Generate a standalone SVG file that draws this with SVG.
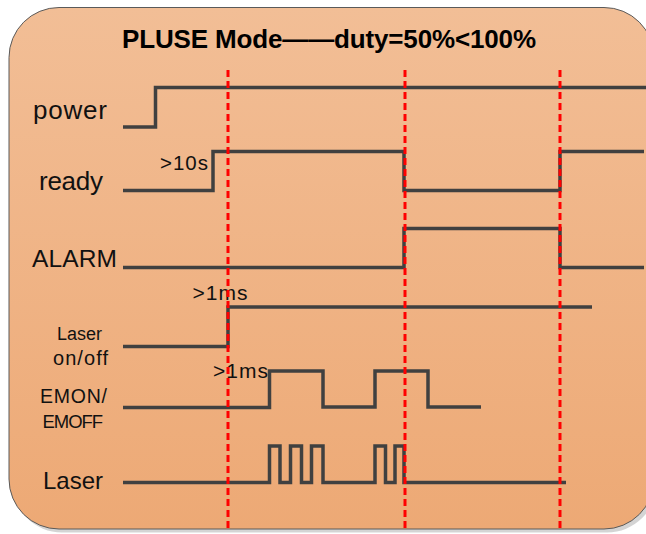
<svg xmlns="http://www.w3.org/2000/svg" width="646" height="534" viewBox="0 0 646 534">
<defs>
<linearGradient id="bg" x1="0" y1="0" x2="0" y2="1">
<stop offset="0" stop-color="#f2be96"/>
<stop offset="1" stop-color="#eda975"/>
</linearGradient>
</defs>
<style>
.sig{fill:none;stroke:#404040;stroke-width:3.5;stroke-linejoin:miter}
.mark{fill:none;stroke:#ff0000;stroke-width:3;stroke-dasharray:7 4}
.lbl{font-family:"Liberation Sans",Arial,sans-serif;fill:#111}
.title{font-family:"Liberation Sans",Arial,sans-serif;font-weight:bold;fill:#000}
</style>
<rect width="646" height="534" fill="#ffffff"/>
<rect x="12" y="11" width="645" height="521.5" rx="50" ry="50" fill="#c9c9c9" opacity="0.8"/>
<rect x="9" y="7.5" width="645" height="521.5" rx="50" ry="50" fill="url(#bg)" stroke="#5a5a5a" stroke-width="1"/>
<text class="title" x="122" y="48" font-size="26" textLength="414">PLUSE Mode——duty=50%&lt;100%</text>
<g id="labels">
<text class="lbl" x="33" y="119" font-size="26" textLength="74">power</text>
<text class="lbl" x="39" y="190" font-size="26" textLength="64">ready</text>
<text class="lbl" x="32" y="267" font-size="24.5" textLength="85">ALARM</text>
<text class="lbl" x="57" y="339.5" font-size="18" textLength="45">Laser</text>
<text class="lbl" x="53" y="364.5" font-size="20" textLength="55">on/off</text>
<text class="lbl" x="40" y="402.5" font-size="19.5" textLength="67">EMON/</text>
<text class="lbl" x="42.5" y="427.5" font-size="18.5" textLength="60.5">EMOFF</text>
<text class="lbl" x="43" y="489" font-size="24" textLength="60">Laser</text>
<text class="lbl" x="160" y="169.5" font-size="20.5" textLength="48">&gt;10s</text>
<text class="lbl" x="192.5" y="299.5" font-size="21" textLength="55">&gt;1ms</text>
<text class="lbl" x="213" y="377.5" font-size="21" textLength="55">&gt;1ms</text>
</g>
<g id="signals">
<g id="power"><polyline class="sig" points="123,127 155.5,127 155.5,87.5 646,87.5"/></g>
<g id="ready"><polyline class="sig" points="123,190.5 213,190.5 213,151.5 404,151.5 404,190.5 560,190.5 560,151.5 644,151.5"/></g>
<g id="alarm"><polyline class="sig" points="123,267.5 404,267.5 404,228.5 560,228.5 560,267.5 644,267.5"/></g>
<g id="laser-onoff"><polyline class="sig" points="123,346.5 228,346.5 228,307 592,307"/></g>
<g id="emon"><polyline class="sig" points="123,407.5 269.5,407.5 269.5,371 323,371 323,407 375,407 375,371 428,371 428,407 481,407"/></g>
<g id="laser"><polyline class="sig" points="123,482.5 269.5,482.5 269.5,446 280,446 280,482.5 290.5,482.5 290.5,446 301.5,446 301.5,482.5 311.5,482.5 311.5,446 323,446 323,482.5 375,482.5 375,446 385.5,446 385.5,482.5 395,482.5 395,446 404,446 404,482.5 566,482.5"/></g>
</g>
<g id="markers">
<line class="mark" x1="228" y1="70" x2="228" y2="530"/>
<line class="mark" x1="405" y1="70" x2="405" y2="530"/>
<line class="mark" x1="560" y1="70" x2="560" y2="530"/>
</g>
</svg>
